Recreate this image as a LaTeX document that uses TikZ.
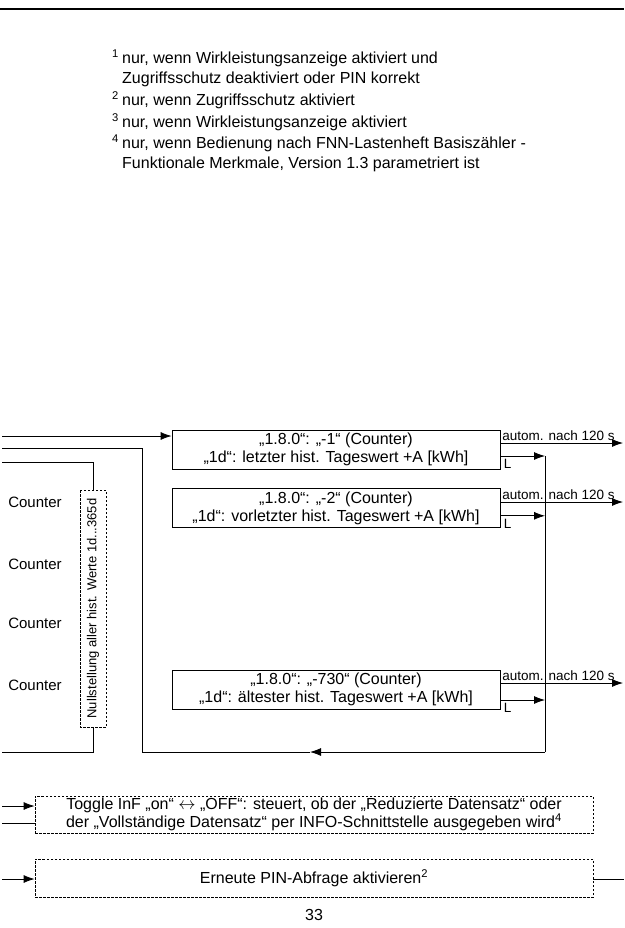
\documentclass[tikz,border=0pt]{standalone}
\usepackage{fontspec}
\setmainfont{Liberation Sans}
\usetikzlibrary{arrows.meta, positioning}

\begin{document}
\begin{tikzpicture}[x=1pt, y=-1pt,
  every node/.style={font=\fontsize{16}{18}\selectfont},
  box/.style={rectangle, draw=black, line width=0.8pt, align=center,
              minimum width=328pt, minimum height=39pt, inner sep=0pt},
  dbox/.style={rectangle, draw=black, line width=0.8pt, dash pattern=on 2.5pt off 1.5pt,
              align=center, inner sep=0pt},
  fnote/.style={anchor=north west, align=left, inner sep=0pt,
              font=\fontsize{16}{20}\selectfont},
  lbl/.style={inner sep=1.5pt, font=\fontsize{13.5}{15}\selectfont},
  conn/.style={line width=0.8pt},
  arrow/.style={line width=0.8pt, -{Latex[length=11pt, width=8pt]}}
]
\useasboundingbox (0,0) rectangle (624,928);
\draw[line width=1.2pt] (0,9) -- (624,9);

% footnotes
\node[fnote] (fn1) at (112,49.5) {\makebox[10pt][l]{\textsuperscript{1}}nur, wenn Wirkleistungsanzeige aktiviert und\\\hspace*{10pt}Zugriffsschutz deaktiviert oder PIN korrekt};
\node[fnote, below=4pt of fn1.south west, anchor=north west] (fn2) {\makebox[10pt][l]{\textsuperscript{2}}nur, wenn Zugriffsschutz aktiviert};
\node[fnote, below=4pt of fn2.south west, anchor=north west] (fn3) {\makebox[10pt][l]{\textsuperscript{3}}nur, wenn Wirkleistungsanzeige aktiviert};
\node[fnote, below=4pt of fn3.south west, anchor=north west] (fn4) {\makebox[10pt][l]{\textsuperscript{4}}nur, wenn Bedienung nach FNN-Lastenheft Basisz\"ahler -\\\hspace*{10pt}Funktionale Merkmale, Version 1.3 parametriert ist};

% history boxes
\node[box] (day1) at (336,449.5) {„1.8.0“: „-1“ (Counter)\\„1d“: letzter hist. Tageswert +A [kWh]};
\node[box, below=19pt of day1] (day2) {„1.8.0“: „-2“ (Counter)\\„1d“: vorletzter hist. Tageswert +A [kWh]};
\node[box] (day730) at (336,689.5) {„1.8.0“: „-730“ (Counter)\\„1d“: \"altester hist. Tageswert +A [kWh]};

\node[font=\fontsize{15}{17}\selectfont] (cnt1) at (35,502) {Counter};
\node[font=\fontsize{15}{17}\selectfont] (cnt2) at (35,564) {Counter};
\node[font=\fontsize{15}{17}\selectfont] (cnt3) at (35,623) {Counter};
\node[font=\fontsize{15}{17}\selectfont] (cnt4) at (35,685) {Counter};

\node[dbox, rotate=90, minimum width=237pt, minimum height=26pt,
      font=\fontsize{13}{15}\selectfont] (reset) at (93,608.5) {Nullstellung aller hist. Werte 1d...365d};

% left side
\coordinate (in1) at (2,436);
\coordinate (in2) at (2,448);
\coordinate (in3) at (2,462);
\coordinate (out1) at (2,752);
\coordinate (loop) at (142,752);
\coordinate (backtip) at (310,752);
\coordinate (bus) at (545,752);

\draw[arrow] (in1) -- (in1 -| day1.west);
\draw[conn] (in3) -- (in3 -| reset.east) -- (reset.east);
\draw[conn] (reset.west) -- (reset.west |- out1) -- (out1);
\draw[conn] (in2) -- (in2 -| loop) -- (loop) -- (backtip);
\draw[arrow] (bus) -- (backtip);

% right side
\coordinate (exit1) at (623,443);
\coordinate (exit2) at (623,502);
\coordinate (exit3) at (623,683);
\draw[arrow] (day1.east |- exit1) -- node[pos=0, anchor=south west, lbl] {autom. nach 120 s} (exit1);
\draw[arrow] (day2.east |- exit2) -- node[pos=0, anchor=south west, lbl] {autom. nach 120 s} (exit2);
\draw[arrow] (day730.east |- exit3) -- node[pos=0, anchor=south west, lbl] {autom. nach 120 s} (exit3);

\draw[arrow] ([yshift=-6.5pt]day1.east) -- ([yshift=-6.5pt]day1.east -| bus) node[pos=0, anchor=north west, lbl, inner sep=3pt] {L};
\draw[arrow] ([yshift=-7.5pt]day2.east) -- ([yshift=-7.5pt]day2.east -| bus) node[pos=0, anchor=north west, lbl, inner sep=3pt] {L};
\draw[arrow] ([yshift=-10.5pt]day730.east) -- ([yshift=-10.5pt]day730.east -| bus) node[pos=0, anchor=north west, lbl, inner sep=3pt] {L};
\draw[conn] ([yshift=-6.5pt]day1.east -| bus) -- (bus);

% bottom boxes
\node[dbox, minimum width=558pt, minimum height=37pt] (toggle) at (314,814.5) {Toggle InF „on“ $\leftrightarrow$ „OFF“: steuert, ob der „Reduzierte Datensatz“ oder\\der „Vollst\"andige Datensatz“ per INFO-Schnittstelle ausgegeben wird\textsuperscript{4}};
\node[dbox, minimum width=558pt, minimum height=38pt] (pin) at (314,878) {Erneute PIN-Abfrage aktivieren\textsuperscript{2}};

\coordinate (in4) at (2,806);
\coordinate (in5) at (2,823);
\coordinate (in6) at (2,879);
\coordinate (out6) at (624,879);
\draw[arrow] (in4) -- (in4 -| toggle.west);
\draw[conn] (in5) -- (in5 -| toggle.west);
\draw[arrow] (in6) -- (in6 -| pin.west);
\draw[conn] (pin.east |- out6) -- (out6);

\node (page) at (314,915) {33};
\end{tikzpicture}
\end{document}
